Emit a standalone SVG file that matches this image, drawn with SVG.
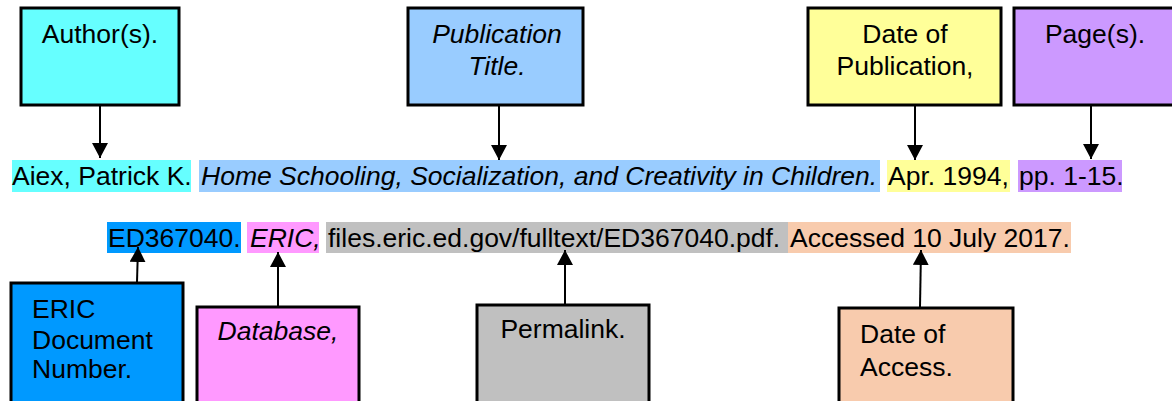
<svg xmlns="http://www.w3.org/2000/svg" width="1172" height="401" viewBox="0 0 1172 401">
<style>
text{font-family:"Liberation Sans",Arial,sans-serif;font-size:26.5px;fill:#000}
.i{font-style:italic}
.box{stroke:#000;stroke-width:3}
.c{text-anchor:middle}
.conn{stroke:#000;stroke-width:2;fill:none;marker-end:url(#ah)}
</style>
<defs>
<marker id="ah" markerUnits="userSpaceOnUse" markerWidth="16" markerHeight="16" viewBox="0 0 16 16" refX="15" refY="8" orient="auto">
<path d="M0,0 L15,8 L0,16 Z" fill="#000"/>
</marker>
</defs>
<rect width="1172" height="401" fill="#fff"/>
<g id="citation">
<rect x="12" y="160" width="179" height="32" fill="#66FFFF"/>
<rect x="199" y="160" width="681" height="32" fill="#99CCFF"/>
<rect x="887" y="160" width="123" height="32" fill="#FFFF99"/>
<rect x="1018" y="160" width="104" height="32" fill="#CC99FF"/>
<text x="12" y="185">Aiex, Patrick K.</text>
<text x="201" y="185" class="i">Home Schooling, Socialization, and Creativity in Children.</text>
<text x="888" y="185">Apr. 1994,</text>
<text x="1019" y="185">pp. 1-15.</text>
<rect x="107" y="222" width="134" height="31" fill="#0099FF"/>
<rect x="247" y="222" width="72" height="31" fill="#FF99FF"/>
<rect x="326" y="222" width="462" height="31" fill="#C0C0C0"/>
<rect x="788" y="222" width="283" height="31" fill="#F8CBAD"/>
<text x="108" y="247">ED367040.</text>
<text x="250" y="247" class="i">ERIC,</text>
<text x="328" y="247">files.eric.ed.gov/fulltext/ED367040.pdf.</text>
<text x="790" y="247">Accessed 10 July 2017.</text>
</g>
<g id="author">
<rect class="box" x="21" y="8" width="158" height="97" fill="#66FFFF"/>
<text class="c" x="100" y="43">Author(s).</text>
</g>
<g id="title">
<rect class="box" x="408" y="8" width="175" height="97" fill="#99CCFF"/>
<text class="c i" x="497" y="43">Publication</text>
<text class="c i" x="497" y="75">Title.</text>
</g>
<g id="pubdate">
<rect class="box" x="808" y="8" width="193" height="97" fill="#FFFF99"/>
<text class="c" x="905" y="43">Date of</text>
<text class="c" x="905" y="75">Publication,</text>
</g>
<g id="pages">
<rect class="box" x="1014" y="8" width="170" height="97" fill="#CC99FF"/>
<text class="c" x="1095" y="43">Page(s).</text>
</g>
<g id="ericnum">
<rect class="box" x="11" y="283" width="172" height="130" fill="#0099FF"/>
<text x="32" y="318">ERIC</text>
<text x="32" y="349">Document</text>
<text x="32" y="378">Number.</text>
</g>
<g id="database">
<rect class="box" x="197" y="307" width="162" height="110" fill="#FF99FF"/>
<text class="c i" x="278" y="340">Database,</text>
</g>
<g id="permalink">
<rect class="box" x="477" y="305" width="172" height="110" fill="#C0C0C0"/>
<text class="c" x="563" y="338">Permalink.</text>
</g>
<g id="access">
<rect class="box" x="839" y="308" width="174" height="110" fill="#F8CBAD"/>
<text x="860" y="343">Date of</text>
<text x="860" y="376">Access.</text>
</g>
<g id="connectors">
<line class="conn" x1="100" y1="106" x2="100" y2="158"/>
<line class="conn" x1="499" y1="106" x2="499" y2="160"/>
<line class="conn" x1="915" y1="106" x2="915" y2="160"/>
<line class="conn" x1="1091" y1="106" x2="1091" y2="159"/>
<line class="conn" x1="137" y1="282" x2="138" y2="247"/>
<line class="conn" x1="278" y1="306" x2="278" y2="252"/>
<line class="conn" x1="565" y1="304" x2="565" y2="250"/>
<line class="conn" x1="920" y1="307" x2="921" y2="250"/>
</g>
</svg>
